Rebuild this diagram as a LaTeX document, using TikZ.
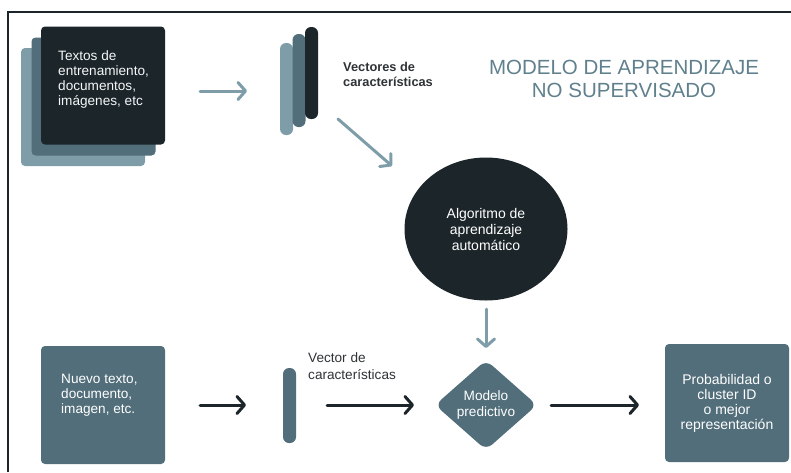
\documentclass[tikz,border=0pt]{standalone}
\usepackage{fontspec}
\setmainfont{Liberation Sans}
\usetikzlibrary{arrows.meta,shapes.geometric}

\definecolor{inkdark}{HTML}{1B252A}
\definecolor{slate}{HTML}{516E7A}
\definecolor{mist}{HTML}{7E9DA8}
\definecolor{titlecol}{HTML}{5F808C}
\definecolor{labelgray}{HTML}{2E3336}

\tikzset{
  card/.style={rounded corners=4pt, inner sep=0pt, minimum width=124pt, minimum height=118pt},
  bar/.style={rounded corners=6pt, inner sep=0pt, minimum width=13pt},
  boxtext/.style={font=\fontsize{13.6}{15}\selectfont, align=left, inner sep=0pt},
  flow/.style={line width=3pt, line cap=round,
    -{Straight Barb[length=7.5pt, width=17pt, line width=3pt, line cap=round, line join=round]}},
}

\begin{document}
\begin{tikzpicture}[x=1pt, y=-1pt]
\useasboundingbox (0,0) rectangle (791,472);

% frame
\draw[line width=1.3pt, inkdark] (8,472) -- (8,12) -- (791,12);

% stacked training documents
\node[card, fill=mist] (docback) at (83,107) {};
\node[card, fill=slate] (docmid) at (93.5,96.5) {};
\node[card, fill=inkdark] (docfront) at (103,85.5) {};
\node[boxtext, text=white!92!mist, anchor=west] (doctxt) at (58,79.5)
  {Textos de\\entrenamiento,\\documentos,\\imágenes, etc};

% stacked feature vectors
\node[bar, fill=mist, minimum height=92pt] (vecA) at (286.5,89) {};
\node[bar, fill=slate, minimum height=93pt] (vecB) at (299,80.5) {};
\node[bar, fill=inkdark, minimum height=92pt] (vecC) at (311.5,73) {};
\node[font=\bfseries\fontsize{12.8}{15}\selectfont, text=labelgray, align=left, inner sep=0pt, anchor=west]
  (veclbl) at (343,74.5) {Vectores de\\características};

% title
\node[font=\fontsize{20.5}{23}\selectfont, text=titlecol, align=center, inner sep=0pt]
  (title) at (624,78.5) {MODELO DE APRENDIZAJE\\NO SUPERVISADO};

% learning algorithm
\node[ellipse, fill=inkdark, minimum width=163pt, minimum height=143pt, inner sep=0pt,
  text=white, align=center, font=\fontsize{14}{16}\selectfont] (algo) at (486,229)
  {Algoritmo de\\aprendizaje\\automático};

% predictive model
\node[diamond, fill=slate, minimum width=102pt, minimum height=90pt, inner sep=0pt,
  rounded corners=8pt, text=white, align=center, font=\fontsize{13.6}{15.5}\selectfont]
  (pred) at (486,405) {Modelo\\predictivo};

% new input
\node[card, fill=slate] (newdoc) at (103,405) {};
\node[boxtext, text=white, anchor=west] (newtxt) at (61,395)
  {Nuevo texto,\\documento,\\imagen, etc.};

% single feature vector
\node[bar, fill=slate, minimum height=75pt] (vecone) at (289.5,405.5) {};
\node[font=\fontsize{13.6}{17}\selectfont, text=labelgray, align=left, inner sep=0pt, anchor=west]
  (vecone lbl) at (308,366.5) {Vector de\\características};

% output
\node[card, fill=slate, text=white, align=center, font=\fontsize{14}{15}\selectfont]
  (result) at (727,403) {Probabilidad o\\cluster ID\\o mejor\\representación};

% connector end points
\coordinate (a1s) at (200,91);  \coordinate (a1e) at (247,91);
\coordinate (a2s) at (338,119); \coordinate (a2e) at (392,166);
\coordinate (a3s) at (486,309); \coordinate (a3e) at (486,348);
\coordinate (a4s) at (200,405); \coordinate (a4e) at (246,405);
\coordinate (a5s) at (327,405); \coordinate (a5e) at (414,405);
\coordinate (a6s) at (551,405); \coordinate (a6e) at (639,405);

\draw[flow, mist] (a1s) -- (a1e);
\draw[flow, mist] (a2s) -- (a2e);
\draw[flow, mist] (a3s) -- (a3e);
\draw[flow, inkdark] (a4s) -- (a4e);
\draw[flow, inkdark] (a5s) -- (a5e);
\draw[flow, inkdark] (a6s) -- (a6e);
\end{tikzpicture}
\end{document}
